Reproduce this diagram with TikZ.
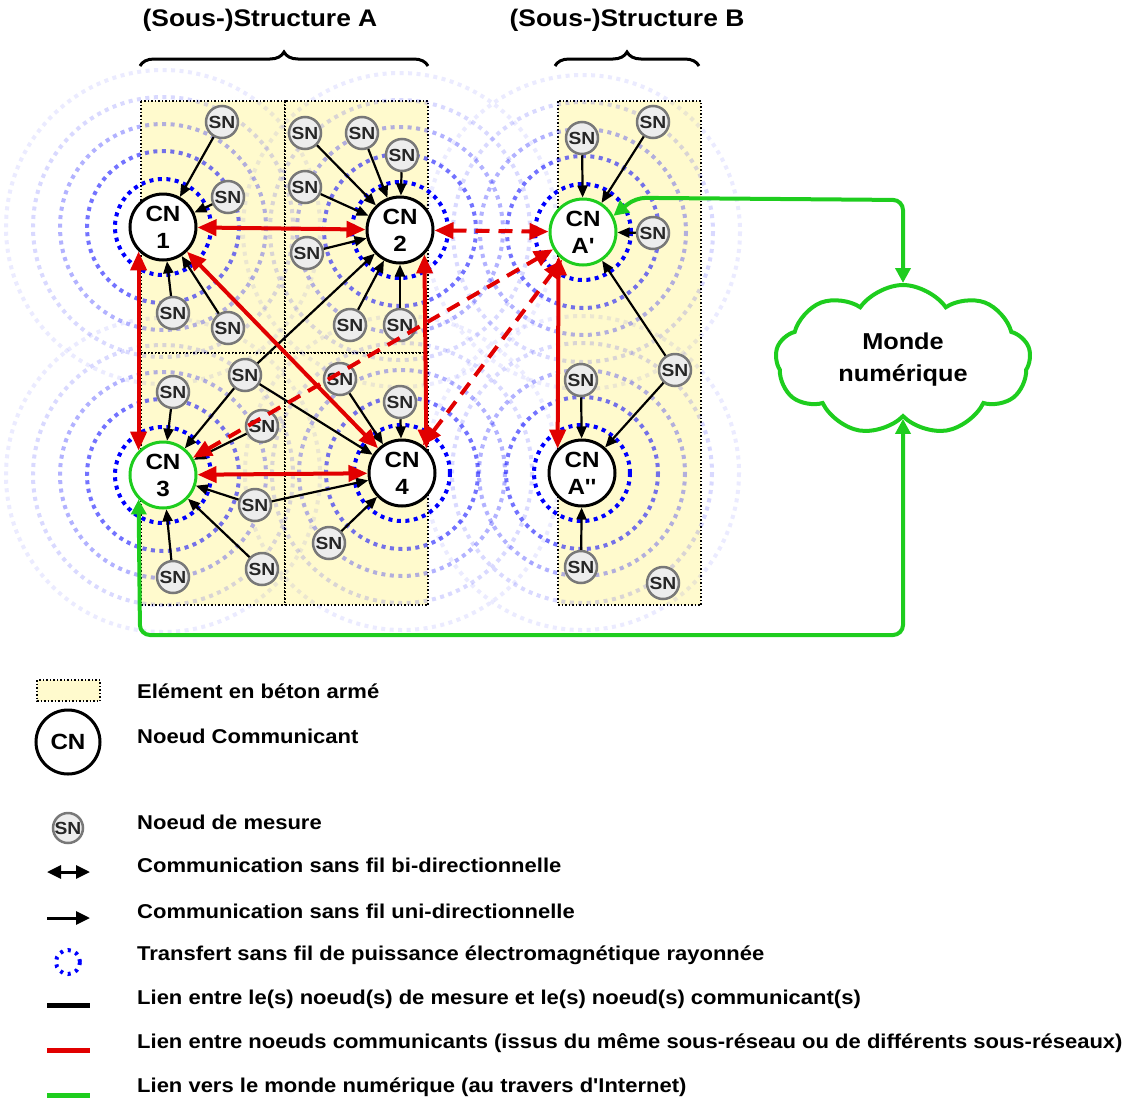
\documentclass[tikz,border=0pt]{standalone}
\usepackage{fontspec}
\setmainfont{Liberation Sans}[FakeStretch=1.1, Ligatures=TeXOff]
\usetikzlibrary{arrows.meta,calc,shapes.symbols,decorations.pathreplacing}
\definecolor{beton}{RGB}{255,250,205}
\definecolor{rouge}{RGB}{225,0,0}
\definecolor{vert}{RGB}{30,205,30}
\definecolor{gris}{RGB}{120,120,120}
\tikzset{
	cn/.style={circle, draw=black, line width=3pt, fill=white, minimum size=66pt, inner sep=0pt, align=center, font=\fontsize{22}{27}\selectfont\bfseries},
	sn/.style={circle, draw=gris, line width=2.5pt, fill=black!7, minimum size=32pt, inner sep=0pt, font=\fontsize{17.5}{17}\selectfont\bfseries, text=black!85},
	onde/.style={blue, line width=4pt, dash pattern=on 4pt off 4.5pt},
	fleche/.style={line width=2.2pt, -{Triangle[length=12pt,width=10pt]}},
	lienrouge/.style={rouge, line width=4pt, {Triangle[length=19pt,width=16pt]}-{Triangle[length=19pt,width=16pt]}},
	lienvert/.style={vert, line width=4pt, {Triangle[length=15pt,width=15pt]}-{Triangle[length=15pt,width=15pt]}, rounded corners=10pt},
	element/.style={fill=beton, draw=black, line width=1.5pt, dotted},
	legende/.style={anchor=west, inner sep=0pt, font=\fontsize{20}{22}\selectfont\bfseries},
	titre/.style={font=\fontsize{24}{26}\selectfont\bfseries},
}
\def\rayonnement(#1){%
	\draw[onde] (#1) circle (48);
	\draw[onde, opacity=0.55] (#1) circle (76);
	\draw[onde, opacity=0.3] (#1) circle (103);
	\draw[onde, opacity=0.15] (#1) circle (130);
	\draw[onde, opacity=0.08] (#1) circle (157);
}

\begin{document}
\begin{tikzpicture}[x=1pt, y=-1pt]
		%%%%% START %%%%%
		\useasboundingbox (0, 0) rectangle (1127, 1101);
		
		\node[titre] (titreA) at (260, 20) {(Sous-)Structure A};
		\node[titre] (titreB) at (627, 20) {(Sous-)Structure B};
		\draw[decorate, decoration={brace, amplitude=14pt}, line width=3pt] (140, 66) -- (428, 66);
		\draw[decorate, decoration={brace, amplitude=14pt}, line width=3pt] (555, 66) -- (699, 66);
		
		\draw[element] (141, 101) rectangle (285, 353);
		\draw[element] (285, 101) rectangle (428, 353);
		\draw[element] (141, 353) rectangle (285, 605);
		\draw[element] (285, 353) rectangle (428, 605);
		\draw[element] (558, 101) rectangle (701, 605);
		
		\coordinate (p1) at (163, 227);
		\coordinate (p2) at (400, 230);
		\coordinate (p3) at (163, 475);
		\coordinate (p4) at (402, 473);
		\coordinate (pA) at (583, 232);
		\coordinate (pB) at (582, 473);
		\rayonnement(p1)
		\rayonnement(p2)
		\rayonnement(p3)
		\rayonnement(p4)
		\rayonnement(pA)
		\rayonnement(pB)
		
		\node[cn] (cn1) at (p1) {CN\\1};
		\node[cn] (cn2) at (p2) {CN\\2};
		\node[cn, draw=vert] (cn3) at (p3) {CN\\3};
		\node[cn] (cn4) at (p4) {CN\\4};
		\node[cn, draw=vert] (cnAp) at (pA) {CN\\A'};
		\node[cn] (cnApp) at (pB) {CN\\A''};
		
		\node[sn] (a1) at (222, 122) {SN};
		\node[sn] (a2) at (228, 197) {SN};
		\node[sn] (a3) at (173, 313) {SN};
		\node[sn] (a4) at (228, 328) {SN};
		
		\node[sn] (b1) at (305, 133) {SN};
		\node[sn] (b2) at (362, 133) {SN};
		\node[sn] (b3) at (402, 155) {SN};
		\node[sn] (b4) at (305, 187) {SN};
		\node[sn] (b5) at (307, 253) {SN};
		\node[sn] (b6) at (350, 325) {SN};
		\node[sn] (b7) at (400, 325) {SN};
		
		\node[sn] (c1) at (173, 392) {SN};
		\node[sn] (c2) at (245, 375) {SN};
		\node[sn] (c3) at (262, 426) {SN};
		\node[sn] (c4) at (255, 505) {SN};
		\node[sn] (c5) at (173, 577) {SN};
		\node[sn] (c6) at (262, 569) {SN};
		
		\node[sn] (d1) at (340, 379) {SN};
		\node[sn] (d2) at (400, 402) {SN};
		\node[sn] (d3) at (329, 543) {SN};
		
		\node[sn] (e1) at (582, 138) {SN};
		\node[sn] (e2) at (653, 122) {SN};
		\node[sn] (e3) at (653, 233) {SN};
		\node[sn] (e4) at (675, 370) {SN};
		\node[sn] (e5) at (581, 380) {SN};
		\node[sn] (e6) at (581, 567) {SN};
		\node[sn] (e7) at (663, 583) {SN};
		
		\draw[fleche] (a1) -- (cn1);
		\draw[fleche] (a2) -- (cn1);
		\draw[fleche] (a3) -- (cn1);
		\draw[fleche] (a4) -- (cn1);
		
		\draw[fleche] (b1) -- (cn2);
		\draw[fleche] (b2) -- (cn2);
		\draw[fleche] (b3) -- (cn2);
		\draw[fleche] (b4) -- (cn2);
		\draw[fleche] (b5) -- (cn2);
		\draw[fleche] (b6) -- (cn2);
		\draw[fleche] (b7) -- (cn2);
		\draw[fleche] (c2) -- (cn2);
		
		\draw[fleche] (c1) -- (cn3);
		\draw[fleche] (c2) -- (cn3);
		\draw[fleche] (c3) -- (cn3);
		\draw[fleche] (c4) -- (cn3);
		\draw[fleche] (c5) -- (cn3);
		\draw[fleche] (c6) -- (cn3);
		
		\draw[fleche] (d1) -- (cn4);
		\draw[fleche] (d2) -- (cn4);
		\draw[fleche] (c2) -- (cn4);
		\draw[fleche] (c4) -- (cn4);
		\draw[fleche] (d3) -- (cn4);
		
		\draw[fleche] (e1) -- (cnAp);
		\draw[fleche] (e2) -- (cnAp);
		\draw[fleche] (e3) -- (cnAp);
		\draw[fleche] (e4) -- (cnAp);
		\draw[fleche] (e5) -- (cnApp);
		\draw[fleche] (e4) -- (cnApp);
		\draw[fleche] (e6) -- (cnApp);
		
		\draw[lienrouge] (cn1) -- (cn2);
		\draw[lienrouge] (cn1.south west) -- (cn3.north west);
		\draw[lienrouge] (cn2.south east) -- (cn4.north east);
		\draw[lienrouge] (cn1) -- (cn4);
		\draw[lienrouge] (cn3) -- (cn4);
		\draw[lienrouge] (cnAp.south west) -- (cnApp.north west);
		\draw[lienrouge, dash pattern=on 14pt off 9pt] (cn2) -- (cnAp);
		\draw[lienrouge, dash pattern=on 14pt off 9pt] (cn3) -- (cnAp);
		\draw[lienrouge, dash pattern=on 14pt off 9pt] (cn4) -- (cnAp);
		
		\node[cloud, cloud puffs=9, cloud puff arc=110, aspect=1.7, draw=vert, line width=4pt, fill=white, minimum width=255pt, minimum height=150pt, align=center, font=\fontsize{23}{32}\selectfont\bfseries] (monde) at (903, 360) {Monde\\numérique};
		
		\coordinate (gA) at (903, 200);
		\coordinate (gB) at (140, 635);
		\coordinate (gC) at (903, 635);
		\draw[lienvert] (cnAp.28) -- ++(22, -18) -- (gA) -- (monde.north);
		\draw[lienvert] (cn3.south west) -- (gB) -- (gC) -- (monde.south);
		
		% legende
		\draw[element] (37, 680) rectangle (100, 701);
		\node[legende] (leg1) at (137, 691) {Elément en béton armé};
		\node[cn, minimum size=64pt] (legcn) at (68, 742) {CN};
		\node[legende] (leg2) at (137, 736) {Noeud Communicant};
		\node[sn, minimum size=30pt] (legsn) at (68, 828) {SN};
		\node[legende] (leg3) at (137, 822) {Noeud de mesure};
		\draw[line width=3pt, {Triangle[length=14pt,width=13pt]}-{Triangle[length=14pt,width=13pt]}] (47, 872) -- (90, 872);
		\node[legende] (leg4) at (137, 865) {Communication sans fil bi-directionnelle};
		\draw[line width=3pt, -{Triangle[length=14pt,width=13pt]}] (47, 918) -- (90, 918);
		\node[legende] (leg5) at (137, 911) {Communication sans fil uni-directionnelle};
		\draw[blue, line width=4pt, dash pattern=on 3pt off 5pt] (68, 962) circle (12);
		\node[legende] (leg6) at (137, 955) {Transfert sans fil de puissance électromagnétique rayonnée};
		\draw[line width=5pt] (47, 1005) -- (90, 1005);
		\node[legende] (leg7) at (137, 999) {Lien entre le(s) noeud(s) de mesure et le(s) noeud(s) communicant(s)};
		\draw[rouge, line width=5pt] (47, 1050) -- (90, 1050);
		\node[legende] (leg8) at (137, 1043) {Lien entre noeuds communicants (issus du même sous-réseau ou de différents sous-réseaux)};
		\draw[vert, line width=5pt] (47, 1095) -- (90, 1095);
		\node[legende] (leg9) at (137, 1087) {Lien vers le monde numérique (au travers d'Internet)};
		%%%%% END %%%%%
\end{tikzpicture}
\end{document}
